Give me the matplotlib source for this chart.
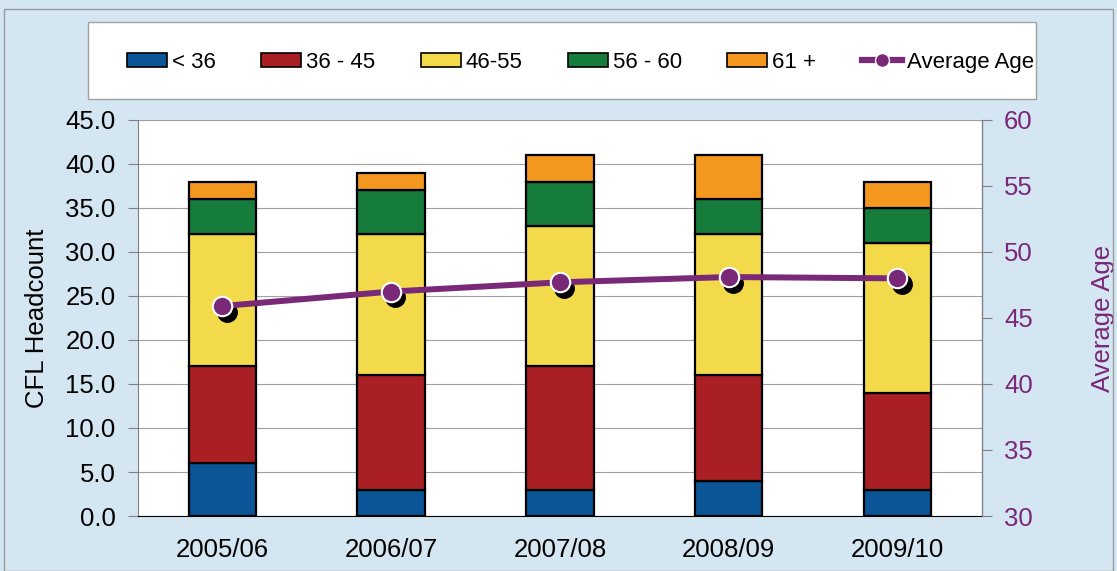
import numpy as np
import matplotlib.pyplot as plt
import matplotlib.transforms as mtransforms
from matplotlib.patches import Patch, Rectangle
from matplotlib.lines import Line2D

plt.rcParams['font.family'] = ['Liberation Sans', 'DejaVu Sans']

# data
years = ['2005/06', '2006/07', '2007/08', '2008/09', '2009/10']
groups = ['< 36', '36 - 45', '46-55', '56 - 60', '61 +']
under36 = [6, 3, 3, 4, 3]
g36_45 = [11, 13, 14, 12, 11]
g46_55 = [15, 16, 16, 16, 17]
g56_60 = [4, 5, 5, 4, 4]
over61 = [2, 2, 3, 5, 3]
avg_age = [45.9, 47.0, 47.7, 48.1, 48.0]

colors = ['#0a5596', '#aa1f24', '#f3da4a', '#167c3c', '#f4971f']
purple = '#7a2878'

fig = plt.figure(figsize=(11.17, 5.71), dpi=100)
fig.patch.set_facecolor('#d5e6f3')
fig.patches.append(Rectangle((0.004, 0.0), 0.992, 0.985, transform=fig.transFigure,
                             fill=False, edgecolor='#9a9a9a', linewidth=1))
# legend box (content sits off-centre in the original)
fig.patches.append(Rectangle((0.0788, 0.8266), 0.8487, 0.1349, transform=fig.transFigure,
                             facecolor='white', edgecolor='#a0a0a0', linewidth=1))

ax = fig.add_axes([0.1235, 0.0963, 0.7555, 0.6937])
x = np.arange(len(years))
bottom = np.zeros(len(years))
for vals, col in zip([under36, g36_45, g46_55, g56_60, over61], colors):
    ax.bar(x, vals, width=0.4, bottom=bottom, color=col, edgecolor='black',
           linewidth=1.6, zorder=3)
    bottom += np.array(vals)

ax.set_xlim(-0.5, len(years) - 0.5)
ax.set_ylim(0, 45)
ax.set_yticks(np.arange(0, 46, 5))
ax.set_yticklabels([f'{v:.1f}' for v in np.arange(0, 46, 5)])
ax.yaxis.grid(True, color='#a0a0a0', linewidth=0.8, zorder=0)
ax.set_axisbelow(True)
ax.set_xticks(x)
ax.set_xticklabels(years)
ax.tick_params(axis='x', length=0, pad=16, labelsize=18.5)
ax.tick_params(axis='y', length=7, color='#808080', labelsize=18.5, pad=9)
ax.set_ylabel('CFL Headcount', fontsize=18.5, labelpad=12)
ax.spines['left'].set_color('#808080')
ax.spines['top'].set_visible(False)
ax.spines['bottom'].set_color('black')
ax.spines['right'].set_color('black')
ax.set_facecolor('white')

ax2 = ax.twinx()
ax2.set_ylim(30, 60)
ax2.set_yticks(np.arange(30, 61, 5))
ax2.tick_params(axis='y', length=7, color='#808080', labelcolor=purple,
                labelsize=18.5, pad=9)
ax2.set_ylabel('Average Age', fontsize=18.5, color=purple, labelpad=42)
for s in ['top', 'left', 'bottom']:
    ax2.spines[s].set_visible(False)
ax2.spines['right'].set_color('#808080')

shadow = mtransforms.offset_copy(ax2.transData, fig=fig, x=3, y=-4, units='points')
ax2.plot(x, avg_age, linestyle='none', marker='o', markersize=14,
         color='black', transform=shadow, zorder=4)
ax2.plot(x, avg_age, color=purple, linewidth=4.3, zorder=5, solid_capstyle='butt')
ax2.plot(x, avg_age, linestyle='none', marker='o', markersize=14,
         markerfacecolor=purple, markeredgecolor='white', markeredgewidth=1.5, zorder=6)

handles = [Patch(facecolor=c, edgecolor='black', linewidth=1.2) for c in colors]
handles.append(Line2D([], [], color=purple, linewidth=4.5, marker='o', markersize=10,
                      markerfacecolor=purple, markeredgecolor='white'))
leg = fig.legend(handles, groups + ['Average Age'], loc='center',
                 bbox_to_anchor=(0.5195, 0.891), ncol=6, fontsize=16, frameon=False,
                 handlelength=1.8, handleheight=0.55, handletextpad=0.22,
                 columnspacing=2.05, borderpad=0)

fig.savefig('out.png', dpi=100, facecolor=fig.get_facecolor())
